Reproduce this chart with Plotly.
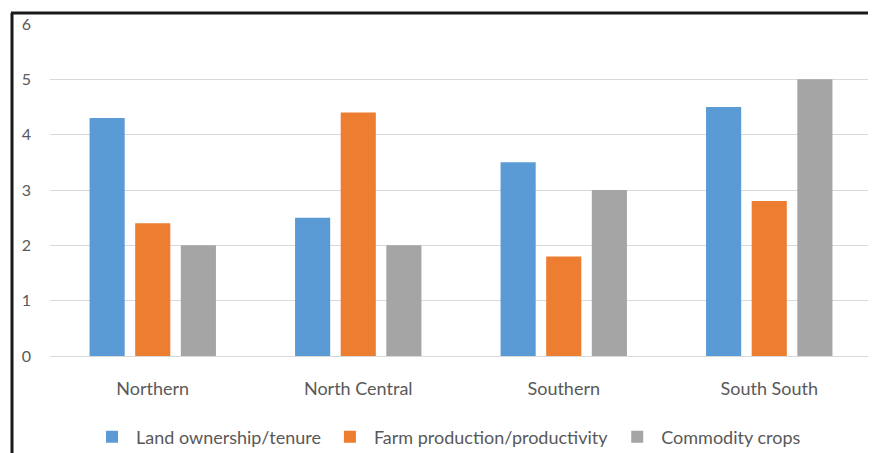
import plotly.graph_objects as go

regions = ["Northern", "North Central", "Southern", "South South"]
land_ownership = [4.3, 2.5, 3.5, 4.5]
farm_production = [2.4, 4.4, 1.8, 2.8]
commodity_crops = [2.0, 2.0, 3.0, 5.0]
series_names = ["Land ownership/tenure", "Farm production/productivity", "Commodity crops"]
colors = ["#5B9BD5", "#ED7D31", "#A5A5A5"]
y_ticks = [0, 1, 2, 3, 4, 5, 6]

fig = go.Figure()
for name, vals, col in zip(series_names, [land_ownership, farm_production, commodity_crops], colors):
    fig.add_trace(go.Bar(x=regions, y=vals, name=name, marker=dict(color=col, line=dict(width=0))))

font_family = "Lato, 'Open Sans', sans-serif"
fig.update_layout(
    width=868, height=445,
    margin=dict(l=42, r=4, t=16, b=97, autoexpand=False),
    paper_bgcolor="white", plot_bgcolor="white",
    barmode="group", bargap=0.334, bargroupgap=0.23,
    font=dict(family=font_family, size=18, color="#595959"),
    showlegend=True,
    legend=dict(orientation="h", x=0.483, xanchor="center", y=-0.244, yanchor="middle",
                font=dict(size=18, color="#595959"), itemwidth=38, traceorder="normal"),
    xaxis=dict(showgrid=False, showline=True, linecolor="#D9D9D9", linewidth=1,
               ticks="", ticklabelstandoff=16, tickfont=dict(size=18, color="#595959")),
    yaxis=dict(range=[0, 6], tickvals=y_ticks, showgrid=True, gridcolor="#D9D9D9", gridwidth=1,
               zeroline=False, showline=False, ticks="", ticklabelstandoff=18,
               tickfont=dict(size=16, color="#595959")),
    shapes=[
        dict(type="line", xref="paper", yref="paper", x0=(12 - 50) / 822, x1=(12 - 50) / 822,
             y0=(356 - 13) / 332, y1=(356 - 470) / 332, line=dict(color="#1a1a1a", width=3)),
        dict(type="line", xref="paper", yref="paper", x0=(11 - 50) / 822, x1=(890 - 50) / 822,
             y0=(356 - 13) / 332, y1=(356 - 13) / 332, line=dict(color="#1a1a1a", width=3)),
    ],
)

fig.write_html("out.html")
